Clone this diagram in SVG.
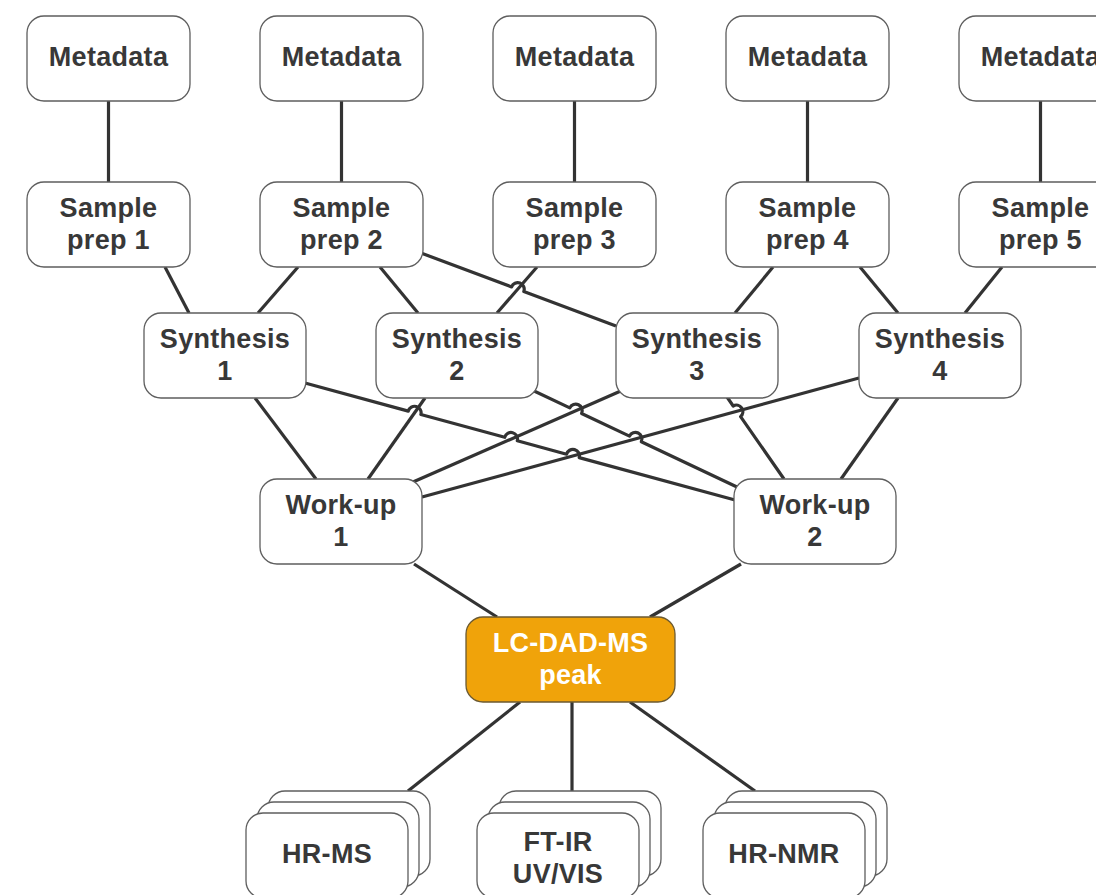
<svg xmlns="http://www.w3.org/2000/svg" width="1096" height="895" viewBox="0 0 1096 895">
  <style>
    .edge { fill: none; stroke: #333333; stroke-width: 3.2; stroke-linejoin: round; }
    .box { fill: #ffffff; stroke: #5e5e5e; stroke-width: 1.3; }
    .hl { fill: #f0a30a; stroke: #6b5a32; stroke-width: 1.3; }
    .lbl { font-family: "Liberation Sans", Arial, Helvetica, sans-serif; font-weight: bold; font-size: 27px; letter-spacing: 0.3px; fill: #383838; text-anchor: middle; }
    .lbl-w { fill: #ffffff; }
  </style>
  <rect width="1096" height="895" fill="#ffffff"/>

  <g id="connectors">
    <!-- metadata to sample prep -->
    <path class="edge" d="M108.5 101 V182"/>
    <path class="edge" d="M341.5 101 V182"/>
    <path class="edge" d="M574.5 101 V182"/>
    <path class="edge" d="M807.5 101 V182"/>
    <path class="edge" d="M1040.5 101 V182"/>
    <!-- sample prep to synthesis -->
    <path class="edge" d="M165 267 L189 313"/>
    <path class="edge" d="M298 267 L258 313"/>
    <path class="edge" d="M380 267 L418 313"/>
    <path class="edge" d="M537 267 L497 313"/>
    <path class="edge" d="M421 253 L511.6 286.9 A6.5 6.5 0 0 1 523.8 291.5 L616 326"/>
    <path class="edge" d="M773 267 L735 313"/>
    <path class="edge" d="M860 267 L898 313"/>
    <path class="edge" d="M1002 267 L965 313"/>
    <!-- synthesis to work-up -->
    <path class="edge" d="M255 398 L316 479"/>
    <path class="edge" d="M425 398 L368 479"/>
    <path class="edge" d="M623 390 L413 482"/>
    <path class="edge" d="M859 378 L422 497"/>
    <path class="edge" d="M898 398 L841 479"/>
    <path class="edge" d="M305 383 L408.3 411.1 A6.5 6.5 0 0 1 420.9 414.5 L504.7 437.3 A6.5 6.5 0 0 1 517.3 440.7 L566.6 454.2 A6.5 6.5 0 0 1 579.2 457.6 L735 500"/>
    <path class="edge" d="M532 390 L569.8 407.9 A6.5 6.5 0 0 1 581.6 413.5 L629.5 436.1 A6.5 6.5 0 0 1 641.3 441.7 L737 487"/>
    <path class="edge" d="M727 397 L733.2 406 A6.5 6.5 0 0 1 740.6 416.6 L784 479"/>
    <!-- work-up to LC-DAD-MS -->
    <path class="edge" d="M414 564 L497 617"/>
    <path class="edge" d="M741 564 L650 617"/>
    <!-- LC-DAD-MS to analyses -->
    <path class="edge" d="M520 702 L408 791"/>
    <path class="edge" d="M572 702 V791"/>
    <path class="edge" d="M630 702 L755 791"/>
  </g>

  <!-- metadata row -->
  <g id="metadata-1"><rect class="box" x="27" y="16" width="163" height="85" rx="17"/><text class="lbl" x="108.5" y="66">Metadata</text></g>
  <g id="metadata-2"><rect class="box" x="260" y="16" width="163" height="85" rx="17"/><text class="lbl" x="341.5" y="66">Metadata</text></g>
  <g id="metadata-3"><rect class="box" x="493" y="16" width="163" height="85" rx="17"/><text class="lbl" x="574.5" y="66">Metadata</text></g>
  <g id="metadata-4"><rect class="box" x="726" y="16" width="163" height="85" rx="17"/><text class="lbl" x="807.5" y="66">Metadata</text></g>
  <g id="metadata-5"><rect class="box" x="959" y="16" width="163" height="85" rx="17"/><text class="lbl" x="1040.5" y="66">Metadata</text></g>

  <!-- sample prep row -->
  <g id="sample-prep-1"><rect class="box" x="27" y="182" width="163" height="85" rx="17"/><text class="lbl" x="108.5" y="217">Sample</text><text class="lbl" x="108.5" y="249">prep 1</text></g>
  <g id="sample-prep-2"><rect class="box" x="260" y="182" width="163" height="85" rx="17"/><text class="lbl" x="341.5" y="217">Sample</text><text class="lbl" x="341.5" y="249">prep 2</text></g>
  <g id="sample-prep-3"><rect class="box" x="493" y="182" width="163" height="85" rx="17"/><text class="lbl" x="574.5" y="217">Sample</text><text class="lbl" x="574.5" y="249">prep 3</text></g>
  <g id="sample-prep-4"><rect class="box" x="726" y="182" width="163" height="85" rx="17"/><text class="lbl" x="807.5" y="217">Sample</text><text class="lbl" x="807.5" y="249">prep 4</text></g>
  <g id="sample-prep-5"><rect class="box" x="959" y="182" width="163" height="85" rx="17"/><text class="lbl" x="1040.5" y="217">Sample</text><text class="lbl" x="1040.5" y="249">prep 5</text></g>

  <!-- synthesis row -->
  <g id="synthesis-1"><rect class="box" x="144" y="313" width="162" height="85" rx="17"/><text class="lbl" x="225" y="348">Synthesis</text><text class="lbl" x="225" y="380">1</text></g>
  <g id="synthesis-2"><rect class="box" x="376" y="313" width="162" height="85" rx="17"/><text class="lbl" x="457" y="348">Synthesis</text><text class="lbl" x="457" y="380">2</text></g>
  <g id="synthesis-3"><rect class="box" x="616" y="313" width="162" height="85" rx="17"/><text class="lbl" x="697" y="348">Synthesis</text><text class="lbl" x="697" y="380">3</text></g>
  <g id="synthesis-4"><rect class="box" x="859" y="313" width="162" height="85" rx="17"/><text class="lbl" x="940" y="348">Synthesis</text><text class="lbl" x="940" y="380">4</text></g>

  <!-- work-up row -->
  <g id="work-up-1"><rect class="box" x="260" y="479" width="162" height="85" rx="17"/><text class="lbl" x="341" y="514">Work-up</text><text class="lbl" x="341" y="546">1</text></g>
  <g id="work-up-2"><rect class="box" x="734" y="479" width="162" height="85" rx="17"/><text class="lbl" x="815" y="514">Work-up</text><text class="lbl" x="815" y="546">2</text></g>

  <!-- central peak -->
  <g id="lc-dad-ms-peak"><rect class="hl" x="466" y="617" width="209" height="85" rx="17"/><text class="lbl lbl-w" x="570.5" y="652">LC-DAD-MS</text><text class="lbl lbl-w" x="570.5" y="684">peak</text></g>

  <!-- stacked analysis boxes -->
  <g id="hr-ms">
    <rect class="box" x="268" y="791" width="162" height="85" rx="17"/>
    <rect class="box" x="257" y="802" width="162" height="85" rx="17"/>
    <rect class="box" x="246" y="813" width="162" height="85" rx="17"/>
    <text class="lbl" x="327" y="863">HR-MS</text>
  </g>
  <g id="ft-ir-uv-vis">
    <rect class="box" x="499" y="791" width="162" height="85" rx="17"/>
    <rect class="box" x="488" y="802" width="162" height="85" rx="17"/>
    <rect class="box" x="477" y="813" width="162" height="85" rx="17"/>
    <text class="lbl" x="558" y="851">FT-IR</text>
    <text class="lbl" x="558" y="883">UV/VIS</text>
  </g>
  <g id="hr-nmr">
    <rect class="box" x="725" y="791" width="162" height="85" rx="17"/>
    <rect class="box" x="714" y="802" width="162" height="85" rx="17"/>
    <rect class="box" x="703" y="813" width="162" height="85" rx="17"/>
    <text class="lbl" x="784" y="863">HR-NMR</text>
  </g>
</svg>
